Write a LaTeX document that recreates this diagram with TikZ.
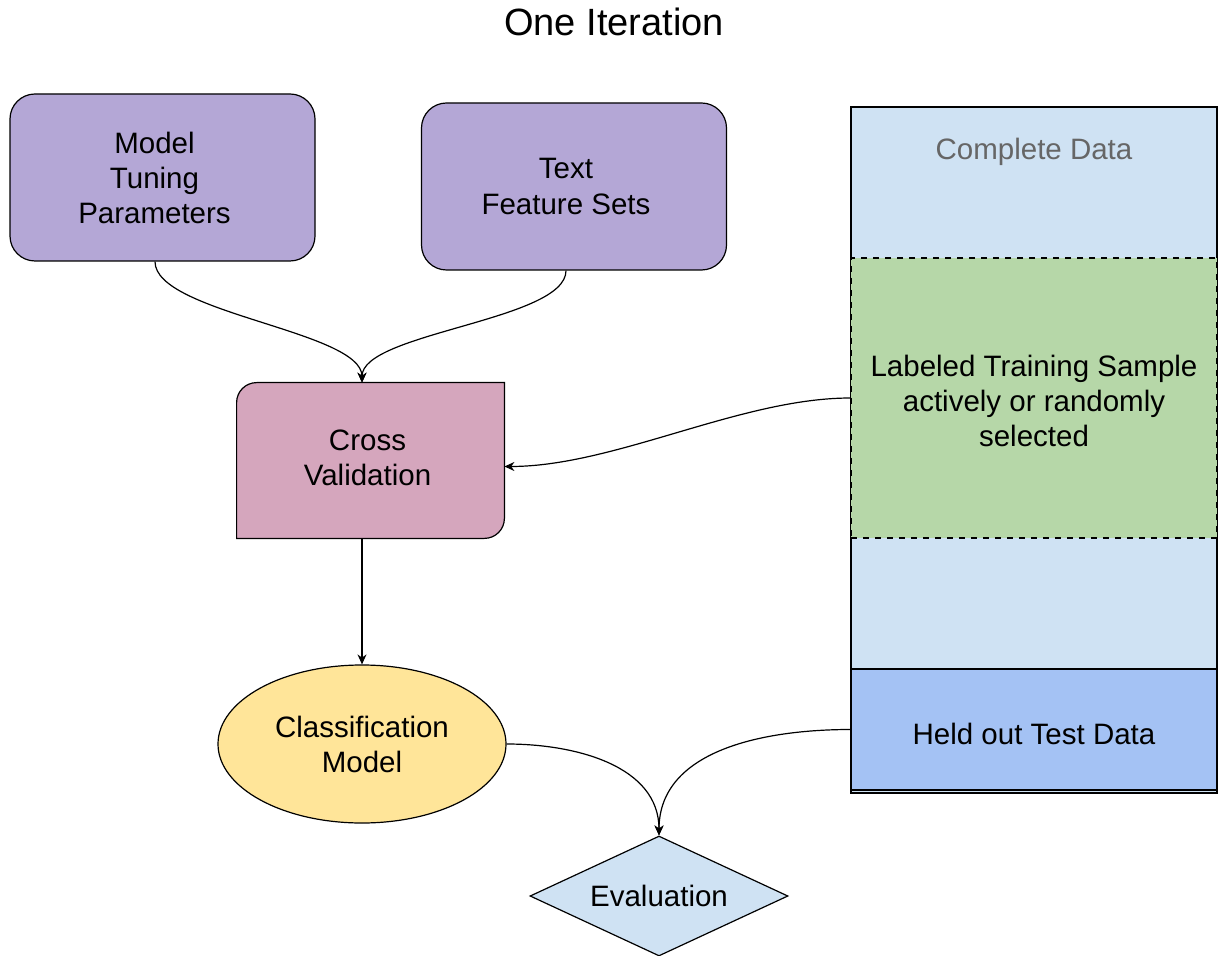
\documentclass[tikz,border=0pt]{standalone}
\usepackage{fontspec}
\setmainfont{Liberation Sans}
\usepackage{xcolor}
\usepackage{tikz}
\usetikzlibrary{arrows.meta,shapes.geometric,positioning,backgrounds}

\definecolor{inputpurple}{HTML}{B4A7D6}
\definecolor{cvpink}{HTML}{D5A6BD}
\definecolor{modelyellow}{HTML}{FFE599}
\definecolor{datablue}{HTML}{CFE2F3}
\definecolor{traingreen}{HTML}{B6D7A8}
\definecolor{testblue}{HTML}{A4C2F4}
\definecolor{labelgray}{HTML}{666666}

\begin{document}
\begin{tikzpicture}[
        x=0.5pt, y=0.5pt,
        >={Stealth[length=5pt,width=4.5pt]},
        font=\fontsize{14.75pt}{17.5pt}\selectfont,
        every node/.style={align=center},
        inputbox/.style={draw, line width=0.6pt, fill=inputpurple, rounded corners=12.5pt,
            minimum width=152.5pt, minimum height=83.5pt},
        inputtext/.style={label={[xshift=-4pt, align=center]center:#1}},
        cvbox/.style={minimum width=133.5pt, minimum height=77.5pt},
        modelnode/.style={ellipse, draw, line width=0.6pt, fill=modelyellow,
            minimum width=144pt, minimum height=79pt},
        evalnode/.style={diamond, draw, line width=0.6pt, fill=datablue, aspect=2.15,
            inner sep=0pt, minimum width=129pt, minimum height=60pt},
        datapart/.style={draw, line width=0.6pt, minimum width=183pt},
        link/.style={->, line width=0.6pt}
    ]
    \useasboundingbox (0,0) rectangle (1219,-956);

    \node[font=\fontsize{19pt}{22pt}\selectfont] (title) at (614,-22) {One Iteration};

    \node[inputbox, inputtext={Model\\Tuning\\Parameters}] (tuning) at (162.5,-177.5) {};
    \node[inputbox, inputtext={Text\\Feature Sets}] (features) at (574,-186.5) {};
    \node[cvbox, label={[xshift=-1.5pt, yshift=1.25pt, align=center]center:Cross\\Validation}]
        (cv) at (370.5,-460.5) {};
    \node[modelnode] (classifier) at (362,-744) {Classification\\Model};
    \node[evalnode] (evaluation) at (659,-896) {Evaluation};

    % data column
    \node[datapart, fill=datablue, minimum height=343pt] (complete) at (1034,-450) {};
    \node[text=labelgray] (completelbl) at (1034,-152) {Complete Data};
    \node[datapart, dashed, fill=traingreen, minimum height=140pt,
        label={[yshift=-1.5pt, align=center]center:Labeled Training Sample\\actively or randomly\\selected}]
        (training) at (1034,-398) {};
    \node[datapart, fill=testblue, minimum height=60.5pt,
        label={[yshift=-2pt]center:Held out Test Data}] (heldout) at (1034,-729.5) {};

    % cross validation box, two rounded corners
    \begin{scope}[on background layer]
        \draw[line width=0.6pt, fill=cvpink] (cv.south west)
            -- ([yshift=-10pt]cv.north west) arc[start angle=180, end angle=90, radius=10pt]
            -- (cv.north east)
            -- ([yshift=10pt]cv.south east) arc[start angle=0, end angle=-90, radius=10pt]
            -- cycle;
    \end{scope}

    % inputs
    \draw[link] ([xshift=-3.75pt]tuning.south) to[out=-90, in=90, looseness=0.55] (cv.north -| classifier.north);
    \draw[link] ([xshift=-4pt]features.south) to[out=-90, in=90, looseness=0.55] (cv.north -| classifier.north);
    \draw[link] (training.west) to[out=180, in=0, looseness=0.8] ([yshift=-3pt]cv.east);

    % model
    \draw[link] (cv.south -| classifier.north) -- (classifier.north);

    % evaluation
    \draw[link] (classifier.east) to[out=0, in=90] (evaluation.north);
    \draw[link] (heldout.west) to[out=180, in=90] (evaluation.north);

\end{tikzpicture}
\end{document}
